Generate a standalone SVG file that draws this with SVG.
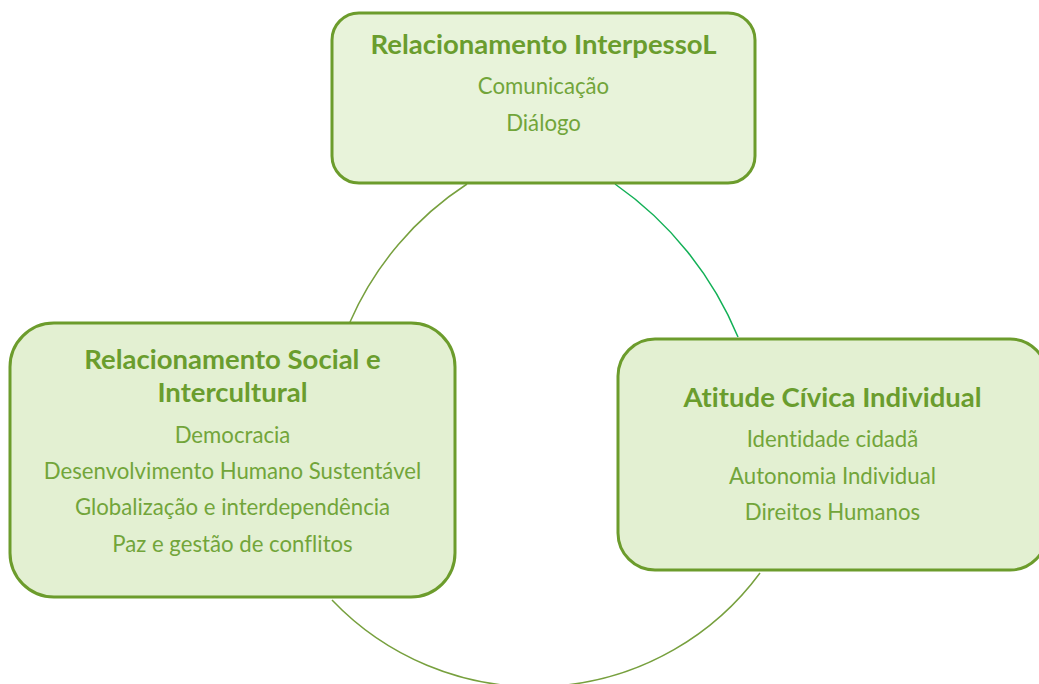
<svg xmlns="http://www.w3.org/2000/svg" width="1039" height="684" viewBox="0 0 1039 684">
  <style>
    .box { stroke: #6C9C2C; stroke-width: 3; }
    .title { font-family: Lato, "Liberation Sans", sans-serif; font-weight: bold; font-size: 27.5px; fill: #6A9D2E; text-anchor: middle; font-variant-ligatures: none; }
    .body { font-family: Lato, "Liberation Sans", sans-serif; font-size: 22.2px; fill: #72A53A; text-anchor: middle; font-variant-ligatures: none; }
    .arc { fill: none; stroke-width: 1.5; }
  </style>
  <rect width="1039" height="684" fill="#ffffff"/>
  <g id="connectors">
    <path class="arc" d="M467,184 A315,315 0 0,0 350,322" stroke="#77A03E"/>
    <path class="arc" d="M615,184 A350,350 0 0,1 738,337" stroke="#12B056"/>
    <path class="arc" d="M332,600 A280,280 0 0,0 760,573" stroke="#77A03E"/>
  </g>
  <g id="node-interpessoal">
    <rect class="box" x="332" y="13" width="423" height="170" rx="27" ry="27" fill="#E8F3DA"/>
    <text class="title" x="543.5" y="54">Relacionamento InterpessoL</text>
    <text class="body" x="543.5" y="94">Comunicação</text>
    <text class="body" x="543.5" y="131">Diálogo</text>
  </g>
  <g id="node-social">
    <rect class="box" x="10" y="323" width="445" height="274" rx="44" ry="44" fill="#E3F0D2"/>
    <text class="title" x="232.5" y="369">Relacionamento Social e</text>
    <text class="title" x="232.5" y="402">Intercultural</text>
    <text class="body" x="232.5" y="443">Democracia</text>
    <text class="body" x="232.5" y="479">Desenvolvimento Humano Sustentável</text>
    <text class="body" x="232.5" y="515">Globalização e interdependência</text>
    <text class="body" x="232.5" y="552">Paz e gestão de conflitos</text>
  </g>
  <g id="node-civica">
    <rect class="box" x="618" y="339" width="429" height="231" rx="37" ry="37" fill="#E3F0D2"/>
    <text class="title" x="832.5" y="407">Atitude Cívica Individual</text>
    <text class="body" x="832.5" y="447">Identidade cidadã</text>
    <text class="body" x="832.5" y="484">Autonomia Individual</text>
    <text class="body" x="832.5" y="520">Direitos Humanos</text>
  </g>
</svg>
